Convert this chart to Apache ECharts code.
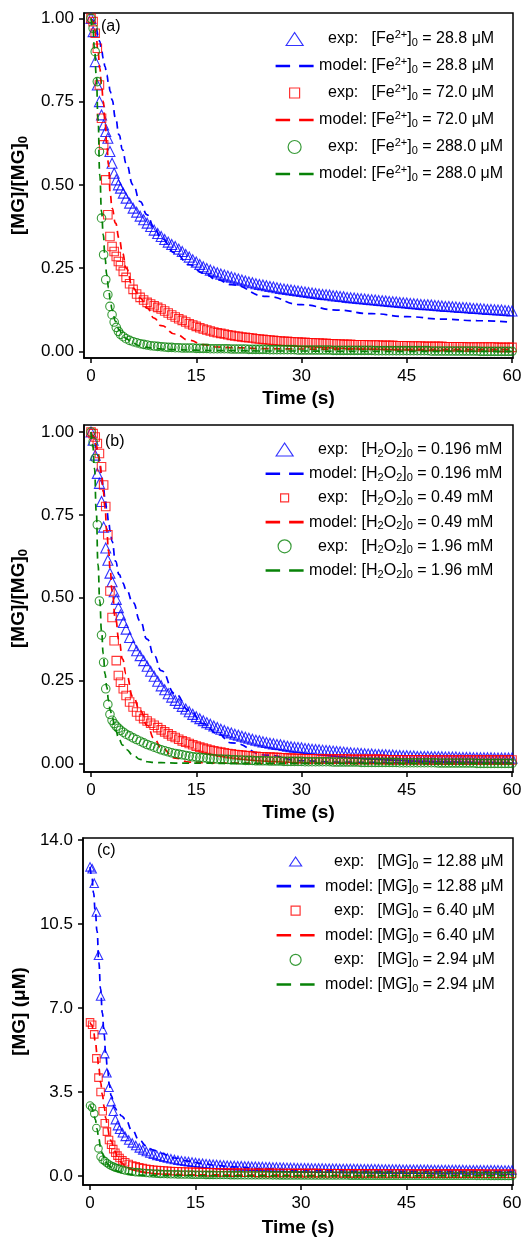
<!DOCTYPE html>
<html><head><meta charset="utf-8">
<script src="https://cdn.jsdelivr.net/npm/echarts@6/dist/echarts.min.js"></script>
<style>html,body{margin:0;padding:0;background:#fff}#c{width:525px;height:1239px}</style>
</head><body><div id="c"></div>
<script>
// ---------- tick labels ----------
const X_TICKS = [0, 15, 30, 45, 60];
const Y_TICKS_AB = [0, 0.25, 0.5, 0.75, 1.0];
const Y_TICKS_C = [0, 3.5, 7, 10.5, 14];

// ---------- time grids (s) ----------
const T = [0,0.3,0.6,0.9,1.2,1.5,1.8,2.1,2.4,2.7,
  3.0,3.3,3.6,3.9,4.2,4.6,5.0,5.5,6,6.5,
  7,7.5,8,8.5,9,9.5,10,10.5,11,11.5,
  12,12.5,13,13.5,14,14.5,15,15.5,16,16.5,
  17,17.5,18,18.5,19,19.5,20,20.5,21,21.5,
  22,22.5,23,23.5,24,24.5,25,25.5,26,26.5,
  27,27.5,28,28.5,29,29.5,30,30.5,31,31.5,
  32,32.5,33,33.5,34,34.5,35,35.5,36,36.5,
  37,37.5,38,38.5,39,39.5,40,40.5,41,41.5,
  42,42.5,43,43.5,44,44.5,45,45.5,46,46.5,
  47,47.5,48,48.5,49,49.5,50,50.5,51,51.5,
  52,52.5,53,53.5,54,54.5,55,55.5,56,56.5,
  57,57.5,58,58.5,59,59.5,60];
const MT = [0,0.25,0.5,0.75,1,1.25,1.5,1.75,2,2.25,
  2.5,2.75,3,3.5,4,4.5,5,6,7,8,
  9,10,12,14,16,18,20,25,30,35,
  40,45,50,55,60];

// ---------- panel (a): [MG]/[MG]0, Fe2+ ----------
const expA_Fe288 = [1.0,0.96,0.87,0.80,0.75,0.71,0.68,0.66,0.64,0.60,
  0.565,0.535,0.515,0.50,0.49,0.475,0.46,0.445,0.43,0.418,
  0.406,0.395,0.385,0.375,0.364,0.354,0.345,0.336,0.328,0.321,
  0.315,0.307,0.30,0.291,0.283,0.275,0.268,0.261,0.254,0.249,
  0.244,0.24,0.236,0.232,0.229,0.226,0.223,0.22,0.217,0.214,
  0.211,0.208,0.206,0.203,0.201,0.199,0.197,0.195,0.193,0.191,
  0.189,0.187,0.186,0.184,0.183,0.181,0.18,0.178,0.177,0.175,
  0.174,0.172,0.171,0.17,0.169,0.167,0.166,0.165,0.164,0.162,
  0.161,0.16,0.159,0.158,0.157,0.156,0.155,0.154,0.153,0.152,
  0.151,0.15,0.149,0.148,0.147,0.146,0.145,0.144,0.143,0.142,
  0.141,0.14,0.14,0.139,0.138,0.137,0.136,0.135,0.135,0.134,
  0.133,0.132,0.132,0.131,0.13,0.129,0.129,0.128,0.127,0.126,
  0.126,0.125,0.124,0.124,0.123,0.122,0.121];
const expA_Fe720 = [1.0,0.99,0.955,0.91,0.80,0.70,0.62,0.515,0.41,0.345,
  0.315,0.30,0.285,0.27,0.257,0.24,0.222,0.203,0.186,0.172,
  0.162,0.154,0.147,0.142,0.137,0.132,0.127,0.121,0.115,0.109,
  0.103,0.098,0.093,0.088,0.083,0.079,0.075,0.071,0.067,0.064,
  0.061,0.058,0.056,0.054,0.052,0.05,0.048,0.046,0.045,0.043,
  0.042,0.041,0.04,0.038,0.037,0.036,0.035,0.034,0.033,0.032,
  0.031,0.03,0.03,0.029,0.028,0.028,0.027,0.027,0.026,0.026,
  0.025,0.025,0.024,0.024,0.023,0.023,0.022,0.022,0.021,0.021,
  0.021,0.02,0.02,0.02,0.02,0.019,0.019,0.019,0.019,0.018,
  0.018,0.018,0.018,0.017,0.017,0.017,0.017,0.016,0.016,0.016,
  0.016,0.015,0.015,0.015,0.015,0.015,0.015,0.014,0.014,0.014,
  0.014,0.014,0.014,0.013,0.013,0.013,0.013,0.013,0.013,0.013,
  0.013,0.013,0.012,0.012,0.012,0.012,0.012];
const expA_Fe2880 = [1.0,0.97,0.90,0.81,0.60,0.40,0.29,0.215,0.17,0.135,
  0.11,0.088,0.072,0.06,0.051,0.044,0.038,0.033,0.029,0.026,
  0.023,0.021,0.019,0.017,0.016,0.015,0.014,0.013,0.012,0.012,
  0.011,0.011,0.01,0.01,0.01,0.01,0.009,0.009,0.009,0.009,
  0.008,0.008,0.008,0.008,0.008,0.008,0.007,0.007,0.007,0.007,
  0.007,0.006,0.006,0.006,0.006,0.006,0.006,0.005,0.005,0.005,
  0.005,0.005,0.005,0.005,0.005,0.004,0.004,0.004,0.004,0.004,
  0.004,0.004,0.004,0.004,0.004,0.003,0.003,0.003,0.003,0.003,
  0.003,0.003,0.003,0.003,0.003,0.003,0.003,0.002,0.002,0.002,
  0.002,0.002,0.002,0.002,0.002,0.002,0.002,0.002,0.002,0.002,
  0.002,0.002,0.002,0.001,0.001,0.001,0.001,0.001,0.001,0.001,
  0.001,0.001,0.001,0.001,0.001,0.001,0.001,0,0,0,
  0,0,0,0,0,0,0];
const modA_Fe288 = [1.0,0.995,0.985,0.97,0.95,0.93,0.905,0.88,0.855,0.83,
  0.805,0.78,0.755,0.70,0.65,0.605,0.565,0.50,0.45,0.41,
  0.37,0.34,0.295,0.26,0.235,0.215,0.20,0.165,0.14,0.124,
  0.113,0.104,0.097,0.092,0.087];
const modA_Fe720 = [1.0,0.99,0.97,0.94,0.90,0.85,0.80,0.75,0.69,0.62,
  0.56,0.47,0.43,0.385,0.34,0.295,0.25,0.19,0.16,0.13,
  0.1,0.077,0.052,0.033,0.02,0.013,0.011,0.008,0.007,0.006,
  0.006,0.005,0.005,0.005,0.005];
const modA_Fe2880 = [1.0,0.97,0.91,0.83,0.70,0.53,0.42,0.35,0.28,0.23,
  0.19,0.155,0.125,0.09,0.065,0.05,0.038,0.024,0.016,0.012,
  0.009,0.007,0.005,0.004,0.003,0.002,0.002,0.001,0.001,0,
  0,0,0,0,0];

// ---------- panel (b): [MG]/[MG]0, H2O2 ----------
const expB_H196 = [1.0,0.975,0.93,0.875,0.845,0.79,0.713,0.65,0.613,0.574,
  0.548,0.518,0.495,0.47,0.448,0.425,0.405,0.38,0.355,0.34,
  0.325,0.31,0.293,0.278,0.263,0.248,0.234,0.222,0.21,0.2,
  0.19,0.181,0.172,0.164,0.156,0.148,0.141,0.135,0.129,0.123,
  0.118,0.113,0.108,0.103,0.099,0.095,0.092,0.088,0.085,0.082,
  0.079,0.076,0.073,0.07,0.068,0.065,0.063,0.061,0.059,0.057,
  0.056,0.054,0.052,0.05,0.049,0.048,0.047,0.045,0.044,0.043,
  0.042,0.041,0.04,0.039,0.038,0.037,0.036,0.035,0.034,0.033,
  0.032,0.031,0.031,0.03,0.029,0.028,0.028,0.027,0.027,0.026,
  0.026,0.025,0.025,0.024,0.024,0.023,0.023,0.022,0.022,0.021,
  0.021,0.021,0.021,0.02,0.02,0.02,0.02,0.019,0.019,0.019,
  0.019,0.018,0.018,0.018,0.018,0.017,0.017,0.017,0.017,0.017,
  0.017,0.016,0.016,0.016,0.016,0.016,0.016];
const expB_H49 = [1.0,0.995,0.985,0.965,0.935,0.895,0.84,0.775,0.69,0.52,
  0.44,0.37,0.31,0.265,0.245,0.225,0.205,0.185,0.17,0.155,
  0.143,0.135,0.128,0.121,0.115,0.108,0.101,0.095,0.089,0.083,
  0.078,0.073,0.068,0.064,0.06,0.056,0.052,0.049,0.046,0.043,
  0.04,0.038,0.036,0.034,0.032,0.03,0.029,0.027,0.026,0.025,
  0.024,0.023,0.022,0.021,0.02,0.02,0.019,0.019,0.018,0.018,
  0.017,0.017,0.016,0.016,0.015,0.015,0.014,0.014,0.014,0.014,
  0.014,0.014,0.013,0.013,0.013,0.013,0.013,0.013,0.013,0.013,
  0.012,0.012,0.012,0.012,0.012,0.012,0.012,0.012,0.012,0.012,
  0.011,0.011,0.011,0.011,0.011,0.011,0.011,0.011,0.011,0.011,
  0.011,0.011,0.01,0.01,0.01,0.01,0.01,0.01,0.01,0.01,
  0.01,0.01,0.01,0.01,0.01,0.01,0.01,0.01,0.01,0.01,
  0.01,0.01,0.01,0.01,0.01,0.01,0.01];
const expB_H196m = [1.0,0.97,0.92,0.72,0.49,0.387,0.305,0.225,0.178,0.148,
  0.13,0.12,0.112,0.106,0.1,0.094,0.088,0.083,0.077,0.072,
  0.067,0.062,0.057,0.053,0.049,0.045,0.041,0.038,0.035,0.032,
  0.03,0.028,0.026,0.024,0.022,0.02,0.019,0.018,0.017,0.016,
  0.015,0.014,0.013,0.013,0.012,0.012,0.011,0.011,0.01,0.01,
  0.009,0.009,0.009,0.008,0.008,0.008,0.008,0.007,0.007,0.007,
  0.007,0.006,0.006,0.006,0.006,0.006,0.006,0.005,0.005,0.005,
  0.005,0.005,0.005,0.005,0.005,0.004,0.004,0.004,0.004,0.004,
  0.004,0.004,0.004,0.003,0.003,0.003,0.003,0.003,0.003,0.003,
  0.003,0.003,0.003,0.003,0.002,0.002,0.002,0.002,0.002,0.002,
  0.002,0.002,0.002,0.002,0.002,0.001,0.001,0.001,0.001,0.001,
  0.001,0.001,0.001,0.001,0.001,0.001,0,0,0,0,
  0,0,0,0,0,0,0];
const modB_H196 = [1.0,0.985,0.97,0.95,0.93,0.90,0.87,0.835,0.80,0.765,
  0.73,0.70,0.67,0.61,0.57,0.545,0.525,0.485,0.43,0.375,
  0.325,0.28,0.21,0.16,0.12,0.09,0.062,0.025,0.008,0.004,
  0.003,0.002,0.002,0.002,0.002];
const modB_H49 = [1.0,0.99,0.98,0.96,0.94,0.91,0.87,0.82,0.77,0.70,
  0.64,0.58,0.52,0.435,0.37,0.315,0.27,0.20,0.16,0.115,
  0.075,0.047,0.016,0.004,0.002,0.001,0.001,0,0,0,
  0,0,0,0,0];
const modB_H196m = [1.0,0.96,0.89,0.76,0.60,0.49,0.40,0.33,0.27,0.23,
  0.19,0.16,0.14,0.1,0.072,0.055,0.042,0.025,0.012,0.005,
  0.003,0.002,0.001,0.001,0.001,0,0,0,0,0,
  0,0,0,0,0];

// ---------- panel (c): [MG] (uM) ----------
const expC_MG1288 = [12.88,12.8,12.2,11.0,9.2,7.5,6.1,5.1,4.3,3.7,
  3.1,2.7,2.35,2.1,1.95,1.8,1.65,1.5,1.38,1.27,
  1.17,1.09,1.02,0.96,0.91,0.86,0.82,0.78,0.75,0.72,
  0.69,0.66,0.64,0.62,0.6,0.58,0.56,0.545,0.53,0.515,
  0.5,0.49,0.48,0.47,0.46,0.45,0.44,0.435,0.43,0.425,
  0.42,0.415,0.41,0.405,0.4,0.395,0.39,0.385,0.38,0.375,
  0.37,0.365,0.36,0.355,0.35,0.345,0.34,0.34,0.34,0.335,
  0.33,0.33,0.33,0.325,0.32,0.32,0.32,0.315,0.31,0.31,
  0.31,0.31,0.31,0.305,0.3,0.3,0.3,0.3,0.3,0.295,
  0.29,0.29,0.29,0.29,0.29,0.285,0.28,0.28,0.28,0.28,
  0.28,0.28,0.28,0.275,0.27,0.27,0.27,0.27,0.27,0.27,
  0.27,0.27,0.27,0.265,0.26,0.26,0.26,0.26,0.26,0.26,
  0.26,0.26,0.26,0.255,0.25,0.25,0.25];
const expC_MG640 = [6.4,6.3,5.9,4.9,4.1,3.5,2.7,2.2,1.85,1.5,
  1.3,1.12,0.97,0.85,0.75,0.65,0.57,0.5,0.44,0.4,
  0.36,0.33,0.3,0.28,0.26,0.25,0.24,0.23,0.22,0.21,
  0.2,0.195,0.19,0.185,0.18,0.175,0.17,0.165,0.16,0.158,
  0.155,0.152,0.15,0.148,0.145,0.142,0.14,0.14,0.14,0.138,
  0.135,0.135,0.135,0.132,0.13,0.13,0.13,0.13,0.13,0.128,
  0.125,0.125,0.125,0.122,0.12,0.12,0.12,0.12,0.12,0.12,
  0.12,0.118,0.115,0.115,0.115,0.115,0.115,0.112,0.11,0.11,
  0.11,0.11,0.11,0.11,0.11,0.11,0.11,0.108,0.105,0.105,
  0.105,0.105,0.105,0.105,0.105,0.105,0.105,0.102,0.1,0.1,
  0.1,0.1,0.1,0.1,0.1,0.1,0.1,0.1,0.1,0.1,
  0.1,0.1,0.1,0.1,0.1,0.1,0.1,0.098,0.095,0.095,
  0.095,0.095,0.095,0.095,0.095,0.095,0.095];
const expC_MG294 = [2.94,2.85,2.6,2.0,1.15,0.8,0.68,0.62,0.54,0.48,
  0.43,0.39,0.35,0.32,0.29,0.26,0.23,0.2,0.18,0.16,
  0.15,0.135,0.125,0.115,0.105,0.1,0.09,0.085,0.08,0.075,
  0.07,0.067,0.065,0.062,0.06,0.057,0.055,0.052,0.05,0.048,
  0.047,0.045,0.044,0.042,0.041,0.04,0.038,0.037,0.036,0.035,
  0.034,0.033,0.032,0.031,0.03,0.03,0.029,0.029,0.028,0.028,
  0.027,0.027,0.026,0.026,0.025,0.025,0.024,0.024,0.023,0.023,
  0.022,0.022,0.021,0.021,0.02,0.02,0.019,0.019,0.018,0.018,
  0.017,0.017,0.016,0.016,0.016,0.015,0.015,0.015,0.014,0.014,
  0.014,0.014,0.013,0.013,0.013,0.013,0.012,0.012,0.012,0.012,
  0.011,0.011,0.011,0.011,0.01,0.01,0.01,0.01,0.009,0.009,
  0.009,0.009,0.008,0.008,0.008,0.008,0.007,0.007,0.007,0.007,
  0.006,0.006,0.006,0.006,0.005,0.005,0.005];
const modC_MG1288 = [12.88,12.5,11.8,11.0,10.2,8.9,7.8,6.8,5.9,5.0,
  4.4,3.8,3.35,2.85,2.65,2.5,2.38,1.9,1.5,1.25,
  1.08,0.95,0.75,0.62,0.52,0.44,0.38,0.29,0.24,0.21,
  0.2,0.19,0.19,0.18,0.18];
const modC_MG640 = [6.4,6.3,6.0,5.6,5.1,4.5,3.9,3.4,2.9,2.4,
  2.0,1.7,1.45,1.05,0.75,0.55,0.42,0.26,0.18,0.13,
  0.1,0.085,0.065,0.055,0.05,0.045,0.04,0.035,0.03,0.03,
  0.03,0.03,0.03,0.03,0.03];
const modC_MG294 = [2.94,2.85,2.65,2.35,1.95,1.55,1.2,0.95,0.76,0.62,
  0.51,0.43,0.36,0.26,0.19,0.14,0.1,0.06,0.04,0.03,
  0.025,0.02,0.015,0.012,0.01,0.01,0.01,0.01,0.01,0.01,
  0.01,0.01,0.01,0.01,0.01];

// ---------- legend texts ----------
const LEG = {
  a: [['exp:', '{t|[Fe}{sup|2+}{t|]}{sub|0}{t| = 28.8 μM}'],
      ['model:', '{t|[Fe}{sup|2+}{t|]}{sub|0}{t| = 28.8 μM}'],
      ['exp:', '{t|[Fe}{sup|2+}{t|]}{sub|0}{t| = 72.0 μM}'],
      ['model:', '{t|[Fe}{sup|2+}{t|]}{sub|0}{t| = 72.0 μM}'],
      ['exp:', '{t|[Fe}{sup|2+}{t|]}{sub|0}{t| = 288.0 μM}'],
      ['model:', '{t|[Fe}{sup|2+}{t|]}{sub|0}{t| = 288.0 μM}']],
  b: [['exp:', '{t|[H}{sub|2}{t|O}{sub|2}{t|]}{sub|0}{t| = 0.196 mM}'],
      ['model:', '{t|[H}{sub|2}{t|O}{sub|2}{t|]}{sub|0}{t| = 0.196 mM}'],
      ['exp:', '{t|[H}{sub|2}{t|O}{sub|2}{t|]}{sub|0}{t| = 0.49 mM}'],
      ['model:', '{t|[H}{sub|2}{t|O}{sub|2}{t|]}{sub|0}{t| = 0.49 mM}'],
      ['exp:', '{t|[H}{sub|2}{t|O}{sub|2}{t|]}{sub|0}{t| = 1.96 mM}'],
      ['model:', '{t|[H}{sub|2}{t|O}{sub|2}{t|]}{sub|0}{t| = 1.96 mM}']],
  c: [['exp:', '{t|[MG]}{sub|0}{t| = 12.88 μM}'],
      ['model:', '{t|[MG]}{sub|0}{t| = 12.88 μM}'],
      ['exp:', '{t|[MG]}{sub|0}{t| = 6.40 μM}'],
      ['model:', '{t|[MG]}{sub|0}{t| = 6.40 μM}'],
      ['exp:', '{t|[MG]}{sub|0}{t| = 2.94 μM}'],
      ['model:', '{t|[MG]}{sub|0}{t| = 2.94 μM}']]
};

const FONT = '"Liberation Sans", Arial, sans-serif';
const BLUE = '#0000ff', RED = '#ff0000', GREEN = '#078207';
const COLORS = [BLUE, RED, GREEN];
const SYMS = ['triangle', 'rect', 'circle'];

function pairs(xs, ys) { return xs.map((x, i) => [x, ys[i]]); }

const panels = [
  { key: 'a', top: 13, height: 345, ymin: -0.02, ymax: 1.016, yt: Y_TICKS_AB, dec: 2,
    exp: [expA_Fe288, expA_Fe720, expA_Fe2880], mod: [modA_Fe288, modA_Fe720, modA_Fe2880],
    ssize: [10, 8.5, 8.5], yname: '{b|[MG]/[MG]}{s|0}', xgap: 31,
    legLeft: 275, legTop: 29, legGap: 7, pW: 49, pPad: [0, 4, 0, 0],
    iconSz: [[17, 13], [10, 10], [13, 13]], tag: [101, 19] },
  { key: 'b', top: 425, height: 347, ymin: -0.026, ymax: 1.021, yt: Y_TICKS_AB, dec: 2,
    exp: [expB_H196, expB_H49, expB_H196m], mod: [modB_H196, modB_H49, modB_H196m],
    ssize: [10, 8.5, 8.5], yname: '{b|[MG]/[MG]}{s|0}', xgap: 31,
    legLeft: 265, legTop: 440, legGap: 5.2, pW: 49, pPad: [0, 4, 0, 0],
    iconSz: [[17, 13], [8, 8], [13, 13]], tag: [105, 434] },
  { key: 'c', top: 838, height: 347, ymin: -0.375, ymax: 14.083, yt: Y_TICKS_C, dec: 1,
    exp: [expC_MG1288, expC_MG640, expC_MG294], mod: [modC_MG1288, modC_MG640, modC_MG294],
    ssize: [8.5, 7.5, 7.5], yname: '{b|[MG] (μM)}', xgap: 33,
    legLeft: 276, legTop: 852, legGap: 5.6, pW: 47, pPad: [0, 5, 0, 6],
    iconSz: [[12, 9], [9, 9], [11, 11]], tag: [97, 843] }
];

function iconPath(kind, w, h) {
  const pad = 'M-19,-7M19,7';
  if (kind === 'triangle') return 'path://' + pad + 'M' + (-w / 2) + ',' + (h / 2) + 'L0,' + (-h / 2) + 'L' + (w / 2) + ',' + (h / 2) + 'Z';
  if (kind === 'rect') return 'path://' + pad + 'M' + (-w / 2) + ',' + (-h / 2) + 'h' + w + 'v' + h + 'h' + (-w) + 'Z';
  const r = w / 2;
  return 'path://' + pad + 'M' + (-r) + ',0A' + r + ',' + r + ',0,1,0,' + r + ',0A' + r + ',' + r + ',0,1,0,' + (-r) + ',0Z';
}
const DASH_ICON = 'path://M-19,-7M19,7M-19,-1.3h14.5v2.6h-14.5zM4.5,-1.3h14.5v2.6h-14.5z';

const grid = [], xAxis = [], yAxis = [], series = [], legend = [], title = [];
const labelMap = {};

panels.forEach((p, i) => {
  grid.push({ left: 83, width: 430, top: p.top, height: p.height, show: true,
    borderColor: '#000', borderWidth: 1.5, backgroundColor: 'transparent', containLabel: false });
  xAxis.push({ type: 'value', gridIndex: i, min: -1, max: 60.14,
    axisLine: { show: true, onZero: false, lineStyle: { color: '#000', width: 1.5 } },
    axisTick: { show: true, inside: false, length: 5, customValues: X_TICKS, lineStyle: { color: '#000', width: 1.5 } },
    axisLabel: { customValues: X_TICKS, color: '#000', fontSize: 17, fontFamily: FONT, margin: 10 },
    splitLine: { show: false },
    name: 'Time (s)', nameLocation: 'middle', nameGap: p.xgap,
    nameTextStyle: { fontWeight: 'bold', fontSize: 19, color: '#000', fontFamily: FONT } });
  yAxis.push({ type: 'value', gridIndex: i, min: p.ymin, max: p.ymax,
    axisLine: { show: true, onZero: false, lineStyle: { color: '#000', width: 1.5 } },
    axisTick: { show: true, inside: false, length: 5, customValues: p.yt, lineStyle: { color: '#000', width: 1.5 } },
    axisLabel: { customValues: p.yt, color: '#000', fontSize: 17, fontFamily: FONT, margin: 10,
      formatter: v => Number(v).toFixed(p.dec) },
    splitLine: { show: false },
    name: p.yname, nameLocation: 'middle', nameRotate: 90, nameGap: 43,
    nameTextStyle: { color: '#000', fontFamily: FONT,
      rich: { b: { fontWeight: 'bold', fontSize: 19, color: '#000', fontFamily: FONT, lineHeight: 22 },
              s: { fontWeight: 'bold', fontSize: 13, color: '#000', fontFamily: FONT, lineHeight: 22, padding: [9, 0, 0, 0] } } } });

  const legData = [];
  for (let k = 0; k < 3; k++) {
    const c = COLORS[k];
    const en = p.key + '_exp' + k, mn = p.key + '_mod' + k;
    labelMap[en] = '{p|' + LEG[p.key][2 * k][0] + '}' + LEG[p.key][2 * k][1];
    labelMap[mn] = '{p|' + LEG[p.key][2 * k + 1][0] + '}' + LEG[p.key][2 * k + 1][1];
    series.push({ type: 'scatter', name: en, xAxisIndex: i, yAxisIndex: i,
      data: pairs(T, p.exp[k]), symbol: SYMS[k], symbolSize: p.ssize[k],
      itemStyle: { color: 'rgba(0,0,0,0)', borderColor: c, borderWidth: 1.1 },
      silent: true, animation: false, z: 2 + k * 2 });
    series.push({ type: 'line', name: mn, xAxisIndex: i, yAxisIndex: i,
      data: pairs(MT, p.mod[k]), showSymbol: false, symbol: 'none',
      smooth: true, smoothMonotone: 'x',
      lineStyle: { color: c, width: 1.7, type: [7, 5] },
      silent: true, animation: false, z: 3 + k * 2 });
    const sz = p.iconSz[k];
    legData.push({ name: en, icon: iconPath(SYMS[k], sz[0], sz[1]),
      itemStyle: { color: 'rgba(0,0,0,0)', borderColor: c, borderWidth: 1.2 } });
    legData.push({ name: mn, icon: DASH_ICON,
      itemStyle: { color: c, borderWidth: 0, borderColor: c } });
  }
  legend.push({ orient: 'vertical', left: p.legLeft, top: p.legTop, padding: 0,
    itemWidth: 38, itemHeight: 14, itemGap: p.legGap, selectedMode: false, align: 'left',
    data: legData, formatter: n => labelMap[n],
    textStyle: { color: '#000', fontSize: 16, fontFamily: FONT,
      rich: {
        p: { width: p.pW, align: 'center', padding: p.pPad, fontSize: 16, lineHeight: 16, color: '#000', fontFamily: FONT },
        t: { fontSize: 16, lineHeight: 16, color: '#000', fontFamily: FONT },
        sup: { fontSize: 11, lineHeight: 16, color: '#000', fontFamily: FONT, padding: [0, 0, 9, 0] },
        sub: { fontSize: 11, lineHeight: 16, color: '#000', fontFamily: FONT, padding: [8, 0, 0, 0] }
      } } });
  title.push({ text: '(' + p.key + ')', left: p.tag[0], top: p.tag[1], padding: 0,
    textStyle: { fontSize: 16, fontWeight: 'normal', color: '#000', fontFamily: FONT } });
});

const chart = echarts.init(document.getElementById('c'), null, { renderer: 'canvas' });
chart.setOption({ backgroundColor: '#fff', animation: false, title, grid, xAxis, yAxis, legend, series });
</script></body></html>
